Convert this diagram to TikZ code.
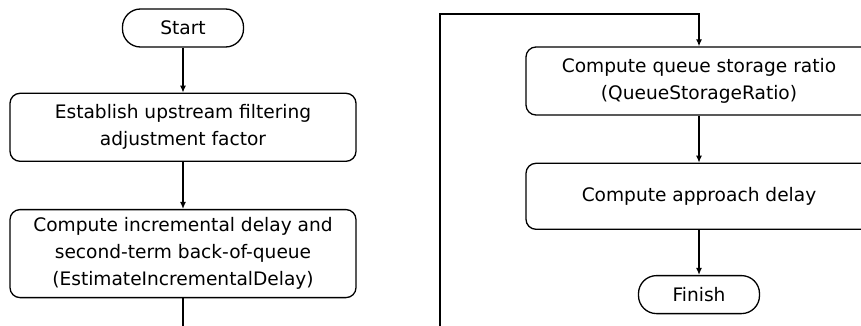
\documentclass[tikz,border=0pt]{standalone}
\usepackage{fontspec}
\setmainfont{DejaVu Sans}
\usetikzlibrary{arrows.meta,positioning}

\begin{document}
\begin{tikzpicture}[x=1pt,y=1pt,font=\fontsize{18.6}{27}\selectfont,>={Latex[length=7pt,width=6pt]},
 line width=1.3pt,
 proc/.style={draw,rounded corners=10pt,align=center,minimum width=346pt,inner sep=3pt},
 term/.style={draw,rounded corners=18pt,align=center,minimum width=121pt,minimum height=38pt,inner sep=2pt}]
\useasboundingbox (0,0) rectangle (861,-326);
\clip (0,0) rectangle (861,-326);
% left column
\node[term] (start) at (183,-28) {Start};
\node[proc,minimum height=68pt,below=45pt of start] (factor) {Establish upstream filtering\\adjustment factor};
\node[proc,minimum height=88pt,below=47pt of factor] (incdelay) {Compute incremental delay and\\second-term back-of-queue\\(EstimateIncrementalDelay)};
\coordinate (leftout) at (183,-335);
% right column
\node[proc,minimum height=68pt] (ratio) at (699,-81) {Compute queue storage ratio\\(QueueStorageRatio)};
\node[proc,minimum height=66pt,below=47pt of ratio] (appdelay) {Compute approach delay};
\node[term,below=45pt of appdelay] (finish) {Finish};
\coordinate (rightin) at (440,-335);
\coordinate (topbend) at (440,-14);
\draw[->] (start)--(factor);
\draw[->] (factor)--(incdelay);
\draw (incdelay)--(leftout);
\draw[->] (rightin)--(topbend)-|(ratio.north);
\draw[->] (ratio)--(appdelay);
\draw[->] (appdelay)--(finish);
\end{tikzpicture}
\end{document}
